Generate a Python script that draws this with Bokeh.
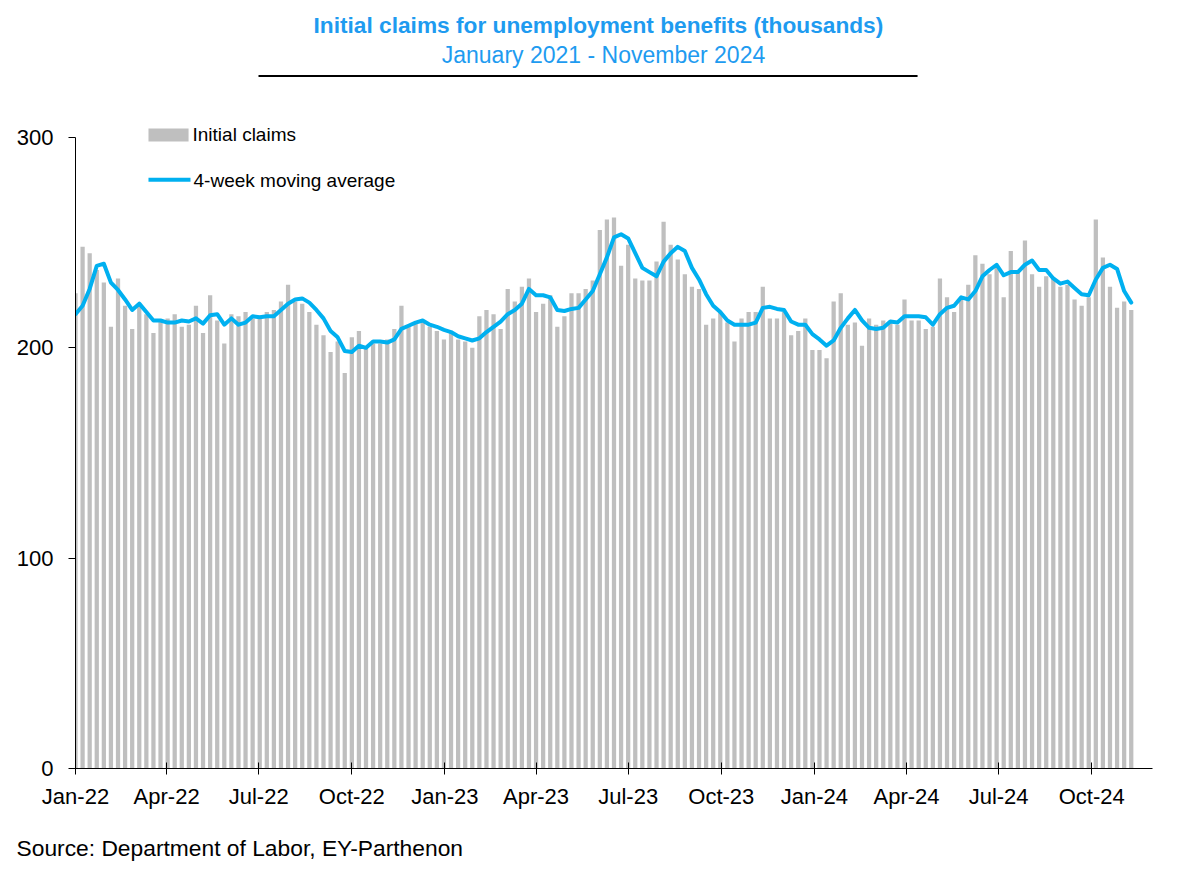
import pandas as pd
from bokeh.plotting import figure
from bokeh.models import Range1d, FixedTicker, Title, ColumnDataSource
from bokeh.core.properties import value
from bokeh.embed import file_html
from bokeh.resources import INLINE

# ---------------- data ----------------
start_week = "2022-01-01"   # first week-ending date (Saturday)
n_weeks = 150

initial_claims = [
    226, 248, 245, 237, 231, 210, 233, 220, 209, 221,
    216, 207, 213, 214, 216, 210, 211, 220, 207, 225,
    213, 202, 216, 215, 217, 214, 214, 217, 218, 222,
    230, 222, 221, 217, 211, 206, 198, 203, 188, 205,
    208, 200, 202, 202, 204, 209, 220, 210, 212, 213,
    210, 208, 204, 207, 204, 203, 200, 215, 218, 216,
    209, 228, 222, 229, 233, 217, 221, 225, 210, 215,
    226, 226, 228, 232, 256, 261, 262, 239, 249, 233,
    232, 232, 241, 260, 249, 242, 235, 229, 228, 211,
    214, 217, 212, 203, 214, 217, 217, 229, 214, 214,
    217, 206, 208, 214, 199, 199, 195, 222, 226, 211,
    212, 201, 214, 211, 213, 212, 211, 223, 213, 213,
    209, 210, 233, 224, 217, 223, 230, 244, 240, 235,
    238, 224, 246, 237, 251, 235, 229, 234, 233, 229,
    230, 223, 220, 224, 261, 243, 229, 219, 222, 218,
]

moving_average_4w = [
    216, 220, 228, 239, 240, 231, 227.5, 223, 218, 221,
    217, 213, 213, 212, 212, 213, 212.5, 214, 211.5, 215.5,
    216, 211, 214, 211, 212, 215, 214.5, 215, 215, 218,
    221, 223, 223.5, 221.5, 218, 214, 208, 205, 198.5, 198,
    201, 200, 203, 203, 202.5, 204, 209, 210.5, 212, 213,
    211, 210, 208.5, 207.5, 205.5, 204.5, 203.5, 204.5, 207.5, 210,
    212.5, 216, 218, 221, 228, 225, 225, 224, 218, 217.5,
    218.5, 219, 223, 227, 235, 243, 252.5, 254, 252, 245,
    238, 236, 234, 241, 245, 248, 246, 238, 232.5, 225.5,
    220, 217, 213, 211, 211, 211, 212, 219, 219.5, 218.5,
    218, 212.5, 211, 211, 206.5, 204, 201, 203.5, 209.5, 214,
    218, 213, 209.5, 209, 209.5, 212.5, 212, 215, 215, 215,
    214.5, 211, 216, 219, 220, 224, 223, 227, 234, 237,
    239.5, 234.5, 236, 236, 239.5, 241.5, 237, 237, 233, 230.5,
    231.5, 228.5, 225.5, 225, 232.5, 238, 239.5, 237.5, 227, 221.5,
]

y_ticks = [0, 100, 200, 300]
x_tick_start = "2022-01-01"
x_tick_end = "2024-10-01"

title_text = "Initial claims for unemployment  benefits (thousands)"
subtitle_text = "January 2021 - November 2024"
legend_bar_text = "Initial claims"
legend_line_text = "4-week moving average"
source_text = "Source: Department of Labor, EY-Parthenon"

# ---------------- derived ----------------
t0 = pd.Timestamp(start_week)
weeks = pd.date_range(start_week, periods=n_weeks, freq="7D")
days = [int((d - t0).days) for d in weeks]
qs = pd.date_range(x_tick_start, x_tick_end, freq="QS")
tick_days = [int((d - t0).days) for d in qs]
tick_labels = {d: q.strftime("%b-%y") for d, q in zip(tick_days, qs)}

src = ColumnDataSource(dict(day=days, claims=initial_claims, ma=moving_average_4w))

# ---------------- styling ----------------
FONT = "Liberation Sans"
BAR = "#BFBFBF"
LINE = "#00B0F0"
TITLE_BLUE = "#1E9BF0"

p = figure(frame_width=1077, frame_height=768, output_backend="svg",
           toolbar_location=None,
           x_range=Range1d(0, 1064), y_range=Range1d(0, 365.13),
           min_border_left=75, min_border_right=48, min_border_top=0,
           min_border_bottom=107)
p.outline_line_color = None
p.grid.visible = False
p.background_fill_color = "white"
p.border_fill_color = "white"

p.vbar(x="day", top="claims", bottom=0, width=4.2, source=src,
       fill_color=BAR, line_color=None)
p.line(x="day", y="ma", source=src, line_color=LINE, line_width=4,
       line_join="round", line_cap="round")

# axes
xa = p.xaxis[0]
xa.ticker = FixedTicker(ticks=tick_days)
xa.major_label_overrides = tick_labels
xa.minor_tick_line_color = None
xa.major_tick_in = 6
xa.major_tick_out = 6
xa.axis_line_color = "black"
xa.major_tick_line_color = "black"
xa.major_label_text_font = FONT
xa.major_label_text_font_size = "22px"
xa.major_label_text_color = "black"
xa.major_label_standoff = 9

ya = p.yaxis[0]
ya.bounds = (0, 300)
ya.ticker = FixedTicker(ticks=y_ticks)
ya.minor_tick_line_color = None
ya.major_tick_in = 0
ya.major_tick_out = 7
ya.axis_line_color = "black"
ya.major_tick_line_color = "black"
ya.major_label_text_font = FONT
ya.major_label_text_font_size = "22px"
ya.major_label_text_color = "black"
ya.major_label_standoff = 15

# titles (placed in the upper part of the frame)
p.text(x=[519.7], y=[353.3], text=[title_text], text_font=value(FONT),
       text_font_style="bold", text_font_size=value("22.7px"), text_color=TITLE_BLUE,
       text_align="center", text_baseline="middle")
p.text(x=[521.6], y=[339.0], text=[subtitle_text], text_font=value(FONT),
       text_font_size=value("23px"), text_color=TITLE_BLUE,
       text_align="center", text_baseline="middle")
p.line(x=[180.8, 831.9], y=[329.2, 329.2], line_color="black", line_width=2)

# legend
p.quad(left=[72.1], right=[111.7], bottom=[298.1], top=[304.3],
       fill_color=BAR, line_color=None)
p.text(x=[115.6], y=[301.4], text=[legend_bar_text], text_font=value(FONT),
       text_font_size=value("19px"), text_color="black", text_baseline="middle")
p.line(x=[72.1, 113.6], y=[279.9, 279.9], line_color=LINE, line_width=4)
p.text(x=[116.6], y=[279.6], text=[legend_line_text], text_font=value(FONT),
       text_font_size=value("19px"), text_color="black", text_baseline="middle")

# source
p.add_layout(Title(text=source_text, align="left", offset=-59, standoff=43,
                   text_font=FONT, text_font_size="22.8px", text_font_style="normal",
                   text_color="black"), "below")

open("out.html", "w").write(file_html(p, INLINE))
